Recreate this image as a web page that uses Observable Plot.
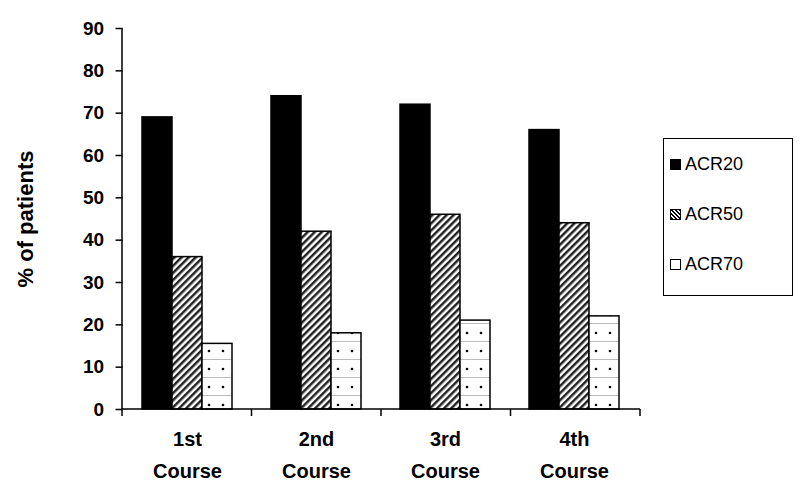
<!DOCTYPE html>
<html><head><meta charset="utf-8">
<script src="https://cdn.jsdelivr.net/npm/d3@7"></script>
<script src="https://cdn.jsdelivr.net/npm/@observablehq/plot@0.6"></script>
<style>
body{margin:0;background:#fff;font-family:"Liberation Sans",Arial,sans-serif;}
#wrap{position:relative;width:800px;height:484px;}
#legend{position:absolute;left:663px;top:138px;width:130px;height:158px;border:1.5px solid #000;box-sizing:border-box;font-size:18px;}
#legend div{display:flex;align-items:center;height:50px;padding-left:6px;}
#legend span.sw{width:11px;height:11px;border:1.5px solid #000;margin-right:4px;box-sizing:border-box;}
</style></head>
<body><div id="wrap"><div id="chart"></div>
<div id="legend">
<div><span class="sw" style="background:#000"></span>ACR20</div>
<div><span class="sw" style="background:repeating-linear-gradient(45deg,#000 0 1.5px,#fff 1.5px 3px)"></span>ACR50</div>
<div><span class="sw" style="background:#fff"></span>ACR70</div>
</div></div>
<script>
const courses = ["1st\nCourse", "2nd\nCourse", "3rd\nCourse", "4th\nCourse"];
const seriesNames = ["ACR20", "ACR50", "ACR70"];
const acr20 = [69, 74, 72, 66];
const acr50 = [36, 42, 46, 44];
const acr70 = [15.5, 18, 21, 22];
const yTicks = [0, 10, 20, 30, 40, 50, 60, 70, 80, 90];

const data = [];
courses.forEach((c, i) => {
  data.push({course: c, series: "ACR20", value: acr20[i]});
  data.push({course: c, series: "ACR50", value: acr50[i]});
  data.push({course: c, series: "ACR70", value: acr70[i]});
});
const fills = {ACR20: "#000", ACR50: "url(#hatch)", ACR70: "url(#dots)"};

// outer padding of the fx band, so the y axis sits at the plot's left edge
const left = 122, right = 640;
const outer = 0.15 * (right - left) / courses.length;

const chart = Plot.plot({
  width: 800, height: 484,
  marginLeft: left, marginRight: 800 - right, marginTop: 28, marginBottom: 75,
  style: {fontFamily: "Liberation Sans, Arial, sans-serif", fontSize: "19px", fontWeight: "bold", color: "#000"},
  fx: {domain: courses, paddingInner: 0.3, paddingOuter: 0.15, label: null},
  x: {domain: seriesNames, padding: 0, axis: null},
  y: {domain: [0, 90], ticks: yTicks},
  marks: [
    Plot.barY(data, {fx: "course", x: "series", y: "value", fill: d => fills[d.series], stroke: "#000", strokeWidth: 1.5}),
    Plot.axisY({ticks: yTicks, dx: -outer, tickSize: 7, tickPadding: 12, strokeWidth: 1.5, label: "% of patients", labelAnchor: "center", labelArrow: "none", labelOffset: 125, fontSize: 19}),
    Plot.axisFx({anchor: "bottom", tickSize: 0, tickPadding: 14, label: null, lineHeight: 1.6, fontSize: 20})
  ]
});
const svg = d3.select(chart);
svg.selectAll("[aria-label='y-axis label'] text").style("font-size", "22px");
const defs = svg.insert("defs", ":first-child");
const h = defs.append("pattern").attr("id", "hatch").attr("patternUnits", "userSpaceOnUse").attr("width", 5).attr("height", 5).attr("patternTransform", "rotate(45)");
h.append("rect").attr("width", 5).attr("height", 5).attr("fill", "#fff");
h.append("rect").attr("width", 2.5).attr("height", 5).attr("fill", "#222");
const p = defs.append("pattern").attr("id", "dots").attr("patternUnits", "userSpaceOnUse").attr("width", 14).attr("height", 18);
p.append("rect").attr("width", 14).attr("height", 18).attr("fill", "#fff");
p.append("line").attr("x1", 0).attr("x2", 14).attr("y1", 17.5).attr("y2", 17.5).attr("stroke", "#bbb");
p.append("circle").attr("cx", 7).attr("cy", 9).attr("r", 1.3).attr("fill", "#000");
// axis lines and x-axis group ticks
const y0 = 484 - 75;
svg.append("line").attr("x1", left).attr("x2", left).attr("y1", 28).attr("y2", y0).attr("stroke", "#000").attr("stroke-width", 1.5);
svg.append("line").attr("x1", left).attr("x2", right).attr("y1", y0).attr("y2", y0).attr("stroke", "#000").attr("stroke-width", 1.5);
const gw = (right - left) / 4;
for (let i = 0; i <= 4; i++) svg.append("line").attr("x1", left + i * gw).attr("x2", left + i * gw).attr("y1", y0).attr("y2", y0 + 7).attr("stroke", "#000").attr("stroke-width", 1.5);
document.getElementById("chart").appendChild(chart);
</script></body></html>
